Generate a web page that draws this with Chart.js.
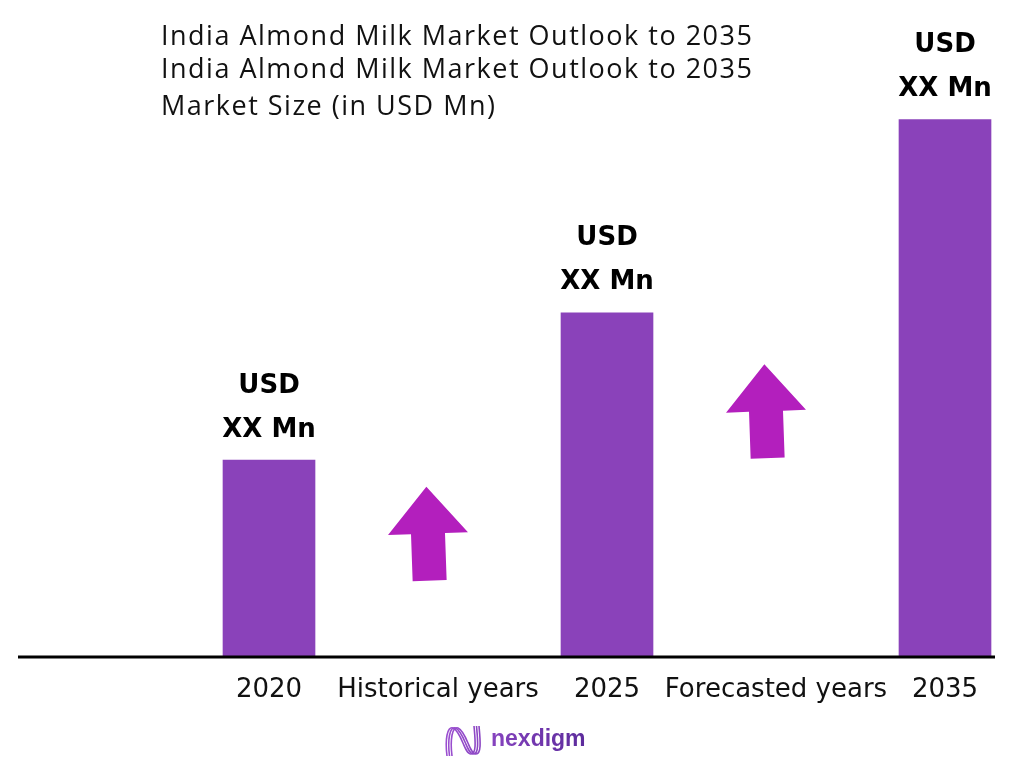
<!DOCTYPE html>
<html>
<head>
<meta charset="utf-8">
<title>India Almond Milk Market Outlook to 2035</title>
<script src="https://cdn.jsdelivr.net/npm/chart.js@4.4.1/dist/chart.umd.min.js"></script>
<style>
    html, body { margin: 0; padding: 0; background: #ffffff; }
    #wrap { width: 1024px; height: 768px; position: relative; }
</style>
</head>
<body>
<div id="wrap"><canvas id="marketChart"></canvas></div>
<script>
// Chart data
const categories = ['2020', 'Historical years', '2025', 'Forecasted years', '2035'];
const marketSize = [19.8, null, 34.6, null, 54];
const valueLabelTop = 'USD';
const valueLabelBottom = 'XX Mn';
const titleLines = [
    'India Almond Milk Market Outlook to 2035',
    'India Almond Milk Market Outlook to 2035',
    'Market Size (in USD Mn)'
];
// growth arrows sit over the gap categories, at a value on the y scale
const arrowCategories = ['Historical years', 'Forecasted years'];
const arrowValues = [12.4, 24.7];
const brandName = 'nexdigm';

const barColor = '#8a42ba';
const arrowColor = '#b31fbd';
const wideFont = '"DejaVu Sans", Verdana, sans-serif';

// titles drawn on the canvas at the top left
const titlePlugin = {
    id: 'titleBlock',
    afterDraw(chart) {
        const ctx = chart.ctx;
        ctx.save();
        ctx.fillStyle = '#111111';
        ctx.font = '27px "Open Sans", "Noto Sans", sans-serif';
        ctx.letterSpacing = '1.5px';
        ctx.textBaseline = 'middle';
        ctx.textAlign = 'left';
        const ys = [37, 70, 107];
        titleLines.forEach((t, i) => ctx.fillText(t, 161, ys[i]));
        ctx.restore();
    }
};

// "USD / XX Mn" above each bar
const valueLabelPlugin = {
    id: 'valueLabels',
    afterDatasetsDraw(chart) {
        const ctx = chart.ctx;
        const meta = chart.getDatasetMeta(0);
        ctx.save();
        ctx.fillStyle = '#000000';
        ctx.font = 'bold 26px ' + wideFont;
        ctx.textAlign = 'center';
        ctx.textBaseline = 'middle';
        meta.data.forEach((bar, i) => {
            if (marketSize[i] === null) return;
            ctx.fillText(valueLabelTop, bar.x, bar.y - 74);
            ctx.fillText(valueLabelBottom, bar.x, bar.y - 30);
        });
        ctx.restore();
    }
};

// long black baseline and the growth arrows
const decorPlugin = {
    id: 'decor',
    afterDatasetsDraw(chart) {
        const ctx = chart.ctx;
        const x = chart.scales.x;
        const y = chart.scales.y;
        const base = y.getPixelForValue(0);
        ctx.save();
        ctx.strokeStyle = '#000000';
        ctx.lineWidth = 3;
        ctx.beginPath();
        ctx.moveTo(18, base);
        ctx.lineTo(995, base);
        ctx.stroke();

        arrowCategories.forEach((cat, i) => {
            const cx = x.getPixelForValue(categories.indexOf(cat)) - 10;
            const cy = y.getPixelForValue(arrowValues[i]);
            ctx.save();
            ctx.translate(cx, cy);
            ctx.rotate(-2 * Math.PI / 180);
            ctx.fillStyle = arrowColor;
            ctx.beginPath();
            ctx.moveTo(0, -47);
            ctx.lineTo(40, 0);
            ctx.lineTo(17, 0);
            ctx.lineTo(17, 47);
            ctx.lineTo(-17, 47);
            ctx.lineTo(-17, 0);
            ctx.lineTo(-40, 0);
            ctx.closePath();
            ctx.fill();
            ctx.restore();
        });
        ctx.restore();
    }
};

// small brand mark at the bottom
const brandPlugin = {
    id: 'brand',
    afterDraw(chart) {
        const ctx = chart.ctx;
        ctx.save();
        const grad = ctx.createLinearGradient(445, 0, 590, 0);
        grad.addColorStop(0, '#9b4fd0');
        grad.addColorStop(1, '#5a2a9a');
        ctx.strokeStyle = grad;
        ctx.lineWidth = 1.6;
        for (let k = 0; k < 3; k++) {
            const o = k * 2.5;
            ctx.beginPath();
            ctx.moveTo(447 + o, 756);
            ctx.bezierCurveTo(445 + o, 740, 447 + o, 726, 453 + o, 728);
            ctx.bezierCurveTo(462 + o, 732, 464 + o, 754, 471 + o, 754);
            ctx.bezierCurveTo(477 + o, 754, 475 + o, 738, 474 + o, 726);
            ctx.stroke();
        }
        ctx.fillStyle = grad;
        ctx.font = 'bold 23px "Liberation Sans", Arial, sans-serif';
        ctx.textAlign = 'left';
        ctx.textBaseline = 'middle';
        ctx.fillText(brandName, 491, 740);
        ctx.restore();
    }
};

const ctx = document.getElementById('marketChart').getContext('2d');
const chart = new Chart(ctx, {
    type: 'bar',
    data: {
        labels: categories,
        datasets: [{
            label: 'Market Size (in USD Mn)',
            data: marketSize,
            backgroundColor: barColor,
            borderWidth: 0,
            barThickness: 92,
            clip: false
        }]
    },
    options: {
        responsive: true,
        maintainAspectRatio: false,
        animation: false,
        layout: {
            padding: { left: 269, right: 79, top: 60, bottom: 0 }
        },
        plugins: {
            legend: { display: false },
            title: { display: false },
            tooltip: { enabled: false }
        },
        scales: {
            x: {
                offset: false,
                grid: { display: false, drawTicks: false },
                border: { display: false },
                ticks: {
                    autoSkip: false,
                    maxRotation: 0,
                    padding: 18,
                    color: '#111111',
                    font: { family: wideFont, size: 26 }
                },
                afterFit(scale) { scale.height = 111; }
            },
            y: {
                display: false,
                min: 0,
                max: 60
            }
        }
    },
    plugins: [titlePlugin, valueLabelPlugin, decorPlugin, brandPlugin]
});
</script>
</body>
</html>
